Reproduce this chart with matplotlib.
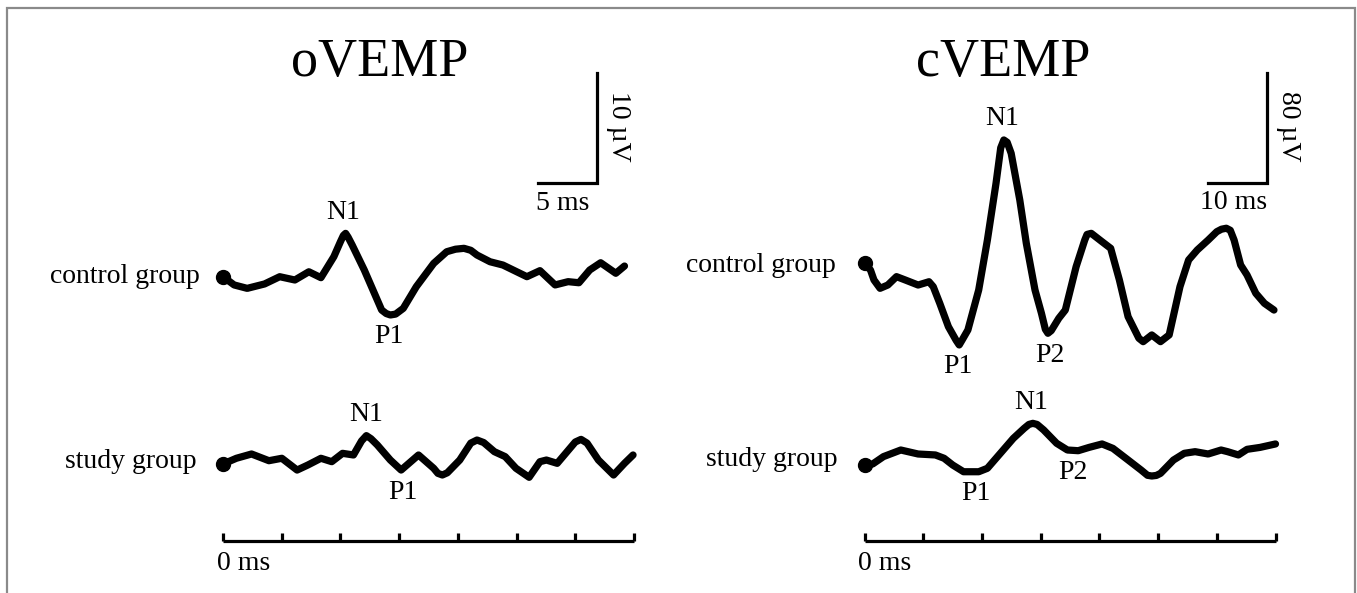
import matplotlib
matplotlib.use("Agg")
import matplotlib.pyplot as plt
from matplotlib.patches import Rectangle

plt.rcParams['font.family'] = ['Liberation Serif', 'DejaVu Serif']

# ---------------- data ----------------
titles = ["oVEMP", "cVEMP"]
group_labels = ["control group", "study group"]

# oVEMP control group (time ms, amplitude µV)
o_ctrl_t = [0, 0.95, 2.06, 3.54, 4.83, 6.12, 7.31, 8.34, 9.44, 10.0, 10.25, 10.44, 10.65,
            11.0, 12.03, 12.77, 13.51, 13.9, 14.25, 14.7, 15.35, 16.46, 17.94, 19.05,
            19.8, 20.52, 21.1, 21.63, 22.74, 23.84, 25.88, 26.99, 28.28, 29.39, 30.31,
            31.23, 32.16, 33.45, 34.19]
o_ctrl_v = [0, -0.75, -1.06, -0.66, 0, -0.3, 0.45, -0.09, 1.82, 3.18, 3.75, 3.94, 3.6,
            2.88, 0.61, -1.21, -3.03, -3.35, -3.48, -3.4, -2.88, -0.91, 1.21, 2.27,
            2.5, 2.58, 2.4, 1.97, 1.36, 1.06, 0, 0.55, -0.75, -0.45, -0.55,
            0.61, 1.27, 0.31, 0.97]

# oVEMP study group
o_study_t = [0, 1.14, 2.43, 3.91, 5.01, 6.31, 7.23, 8.34, 9.26, 10.18, 11.11, 11.8,
             12.21, 12.6, 13.14, 14.25, 15.17, 16.65, 17.94, 18.3, 18.68, 19.1, 20.16,
             21.1, 21.63, 22.2, 23.11, 24.03, 24.95, 26.07, 26.99, 27.54, 28.46, 30.0,
             30.49, 31.0, 31.97, 33.26, 34.19, 34.92]
o_study_v = [0, 0.52, 0.91, 0.30, 0.52, -0.55, -0.09, 0.52, 0.21, 0.97, 0.82, 2.1,
             2.58, 2.3, 1.73, 0.36, -0.55, 0.82, -0.39, -0.85, -1.0, -0.8, 0.36,
             1.9, 2.18, 1.95, 1.12, 0.67, -0.39, -1.21, 0.21, 0.36, 0.06, 2.0,
             2.24, 1.9, 0.36, -1.0, 0.06, 0.82]

# cVEMP control group
c_ctrl_t = [0, 1.02, 1.61, 2.65, 3.97, 5.45, 6.92, 9.13, 10.98, 11.71, 12.82, 14.29,
            15.6, 16.13, 16.6, 17.61, 19.45, 20.93, 22.40, 23.2, 23.73, 24.3, 24.98,
            26.45, 27.56, 29.04, 30.14, 30.8, 31.24, 31.8, 33.09, 34.20, 36.04, 37.51,
            37.9, 38.62, 40.46, 41.93, 43.41, 44.89, 46.73, 47.46, 48.93, 50.41, 51.89,
            53.73, 55.20, 56.68, 58.53, 60.00, 60.8, 61.62, 62.3, 62.95, 64.06, 65.15,
            66.64, 68.11, 69.74]
c_ctrl_v = [0, -4.9, -12.1, -18.2, -15.8, -9.7, -12.1, -15.8, -13.4, -17.0, -29.1, -46.1,
            -56.0, -59.4, -56.0, -48.5, -19.4, 16.9, 58.2, 84.0, 89.7, 88.0, 80.0,
            46.0, 14.5, -19.4, -36.4, -48.0, -50.9, -49.0, -40.0, -34.0, -2.5, 16.9,
            21.0, 21.8, 15.7, 10.9, -12.1, -38.8, -54.5, -57.0, -52.1, -57.0, -52.1,
            -17.0, 2.4, 9.7, 16.9, 23.0, 24.8, 25.5, 24.0, 16.9, -1.2, -8.5,
            -21.8, -29.1, -34.0]

# cVEMP study group
c_study_t = [0, 1.38, 3.23, 6.18, 9.13, 12.07, 13.55, 15.02, 16.87, 19.45, 20.93, 23.14,
             25.35, 27.20, 28.0, 28.67, 29.4, 30.51, 32.72, 34.56, 36.40, 38.25, 40.46,
             42.31, 44.51, 47.09, 48.2, 48.93, 49.7, 50.41, 52.62, 54.46, 56.31, 58.53,
             60.73, 61.84, 63.68, 65.16, 67.37, 70.0]
c_study_v = [0, 0.7, 6.1, 10.9, 8.0, 7.3, 4.9, 0, -4.9, -4.9, -2.4, 8.5,
             19.4, 26.7, 29.5, 30.3, 29.5, 25.5, 15.8, 10.9, 10.4, 12.8, 15.3,
             12.1, 4.9, -3.6, -7.5, -8.0, -7.6, -6.1, 3.6, 8.5, 9.7, 8.0,
             10.9, 9.7, 7.3, 11.4, 12.8, 15.3]

# peak labels: (name, time ms, amplitude µV)
o_ctrl_peaks = [("N1", 10.2, 3.94), ("P1", 14.1, -3.48)]
o_study_peaks = [("N1", 12.2, 2.58), ("P1", 15.3, -0.55)]
c_ctrl_peaks = [("N1", 23.5, 89.7), ("P1", 15.9, -59.4), ("P2", 31.5, -50.9)]
c_study_peaks = [("N1", 28.4, 30.3), ("P1", 19.0, -4.9), ("P2", 35.5, 10.9)]

o_ticks_ms = [0, 5, 10, 15, 20, 25, 30, 35]
c_ticks_ms = [0, 10, 20, 30, 40, 50, 60, 70]
o_scalebar = (5, 10)    # ms, µV
c_scalebar = (10, 80)   # ms, µV
o_scalebar_labels = ("5 ms", "10 µV")
c_scalebar_labels = ("10 ms", "80 µV")
axis_label = "0 ms"

# ---------------- layout ----------------
W, H = 1357, 593
fig = plt.figure(figsize=(W / 100, H / 100), dpi=100)
fig.patch.set_facecolor("white")

FS = 20
LW = 5.2
INK = "black"


def fx(px):
    return px / W


def fy(py):
    return 1 - py / H


def make_panel(x0_px, base_px, px_per_ms, px_per_uv):
    ax = fig.add_axes([0, 0, 1, 1])
    ax.set_xlim(-x0_px / px_per_ms, (W - x0_px) / px_per_ms)
    ax.set_ylim(-(H - base_px) / px_per_uv, base_px / px_per_uv)
    ax.axis("off")
    ax.patch.set_alpha(0)
    return ax


def draw_panel(ax, ctrl_t, ctrl_v, study_t, study_v, ctrl_peaks, study_peaks,
               study_off, axis_y, tick_h, ticks, scale, scale_pos, scale_labels,
               px_per_ms, px_per_uv):
    for t, v, off, peaks in ((ctrl_t, ctrl_v, 0.0, ctrl_peaks),
                             (study_t, study_v, study_off, study_peaks)):
        ax.plot(t, [a + off for a in v], color=INK, lw=LW,
                solid_joinstyle="round", solid_capstyle="round")
        ax.plot([t[0]], [v[0] + off], "o", color=INK, ms=10)
        for name, pt, pv in peaks:
            up = name.startswith("N")
            ax.annotate(name, (pt, pv + off), xytext=(0, 21 if up else -22),
                        textcoords="offset pixels", ha="center", va="center",
                        fontsize=FS, color=INK)
    # time axis
    ax.plot([ticks[0], ticks[-1]], [axis_y, axis_y], color=INK, lw=2.3,
            solid_capstyle="butt")
    ax.vlines(ticks, axis_y, axis_y + tick_h, color=INK, lw=2.3)
    # scale bar
    sx, sy = scale_pos
    ms, uv = scale
    ax.plot([sx - ms, sx, sx], [sy, sy, sy + uv], color=INK, lw=2.3,
            solid_joinstyle="miter")
    ax.text(sx - ms / 2 - 4 / px_per_ms, sy - 20 / px_per_uv, scale_labels[0],
            ha="center", va="center", fontsize=FS)
    ax.text(sx + 22 / px_per_ms, sy + uv / 2 + 2 / px_per_uv, scale_labels[1],
            ha="center", va="center", rotation=-90, fontsize=FS)
    ax.text(ticks[0] - 6 / px_per_ms, axis_y - 22 / px_per_uv, axis_label,
            ha="left", va="center", fontsize=FS)


# left panel (oVEMP)
L_x0, L_base, L_ppms, L_ppuv = 223.0, 276.7, 411.0 / 35, 11.0
axL = make_panel(L_x0, L_base, L_ppms, L_ppuv)
draw_panel(axL, o_ctrl_t, o_ctrl_v, o_study_t, o_study_v, o_ctrl_peaks, o_study_peaks,
           study_off=-(464 - L_base) / L_ppuv, axis_y=-(541 - L_base) / L_ppuv,
           tick_h=8 / L_ppuv, ticks=o_ticks_ms, scale=o_scalebar,
           scale_pos=((596.5 - L_x0) / L_ppms, (L_base - 183) / L_ppuv),
           scale_labels=o_scalebar_labels, px_per_ms=L_ppms, px_per_uv=L_ppuv)

# right panel (cVEMP)
R_x0, R_base, R_ppms, R_ppuv = 864.5, 263.3, 411.0 / 70, 110.0 / 80
axR = make_panel(R_x0, R_base, R_ppms, R_ppuv)
draw_panel(axR, c_ctrl_t, c_ctrl_v, c_study_t, c_study_v, c_ctrl_peaks, c_study_peaks,
           study_off=-(465 - R_base) / R_ppuv, axis_y=-(541 - R_base) / R_ppuv,
           tick_h=8 / R_ppuv, ticks=c_ticks_ms, scale=c_scalebar,
           scale_pos=((1266.5 - R_x0) / R_ppms, (R_base - 183) / R_ppuv),
           scale_labels=c_scalebar_labels, px_per_ms=R_ppms, px_per_uv=R_ppuv)

# titles
fig.text(fx(380), fy(76), titles[0], ha="center", va="baseline", fontsize=39)
fig.text(fx(1003), fy(76), titles[1], ha="center", va="baseline", fontsize=39)

# group labels
fig.text(fx(200), fy(276), group_labels[0], ha="right", va="center", fontsize=FS)
fig.text(fx(197), fy(462), group_labels[1], ha="right", va="center", fontsize=FS)
fig.text(fx(836), fy(266), group_labels[0], ha="right", va="center", fontsize=FS)
fig.text(fx(838), fy(459), group_labels[1], ha="right", va="center", fontsize=FS)

# outer grey frame
fig.patches.append(Rectangle((fx(7), -0.02), fx(1355) - fx(7), fy(8) + 0.02,
                             transform=fig.transFigure, fill=False,
                             edgecolor="#8a8a8a", lw=1.6))

fig.savefig("out.png", dpi=100, facecolor="white")
